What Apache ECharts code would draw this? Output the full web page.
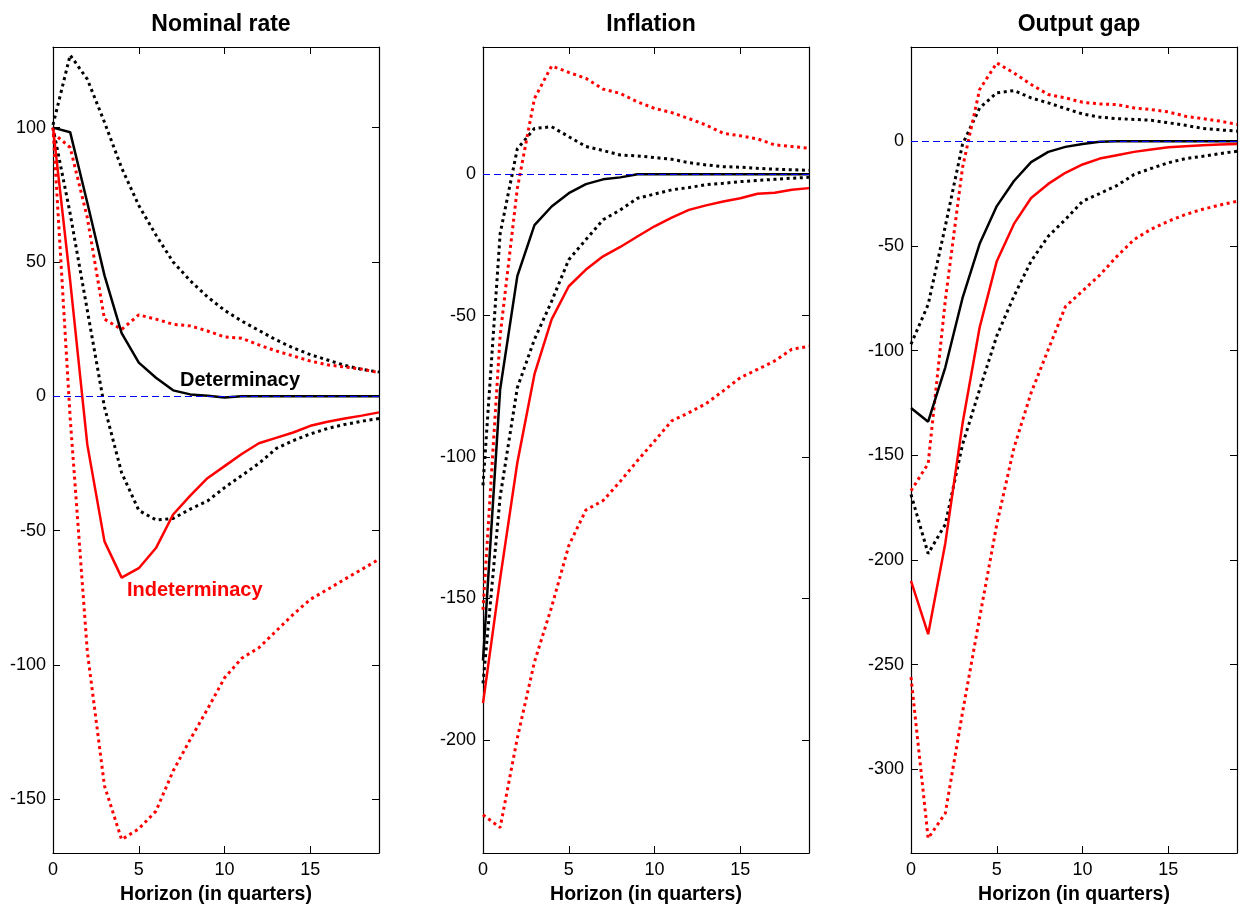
<!DOCTYPE html>
<html>
<head>
    <meta charset="utf-8">
    <title>Impulse responses: determinacy vs indeterminacy</title>
    <script src="https://cdn.jsdelivr.net/npm/echarts@6/dist/echarts.min.js"></script>
    <style>
        body, html { margin: 0; padding: 0; width: 100%; height: 100%; overflow: hidden; background: #fff; }
        #main { width: 1245px; height: 908px; }
    </style>
</head>
<body>
    <div id="main"></div>
    <script>
        // horizon in quarters
        const horizon = [0,1,2,3,4,5,6,7,8,9,10,11,12,13,14,15,16,17,18,19];
        const panelTitles = ['Nominal rate', 'Inflation', 'Output gap'];

        // Nominal rate
        const nomDet   = [100, 98.3, 72, 45, 23.5, 12.5, 6.9, 2.2, 0.7, 0.2, -0.5, 0, 0, 0, 0, 0, 0, 0, 0, 0];
        const nomDetHi = [101, 127, 118, 102, 85, 71, 60, 50, 43, 37, 32, 28, 24.5, 21, 18, 15.5, 13.5, 11.5, 10, 9];
        const nomDetLo = [100, 68, 32, -4, -28.5, -42.5, -46, -45.5, -42, -39, -34, -29.5, -25, -19.5, -16.5, -14, -12, -10.5, -9.3, -8.3];
        const nomInd   = [100, 43, -18, -54, -67.5, -64, -56.5, -44, -37, -30.5, -26, -21.5, -17.5, -15.5, -13.5, -11, -9.5, -8.3, -7.2, -6];
        const nomIndHi = [98, 92.6, 66.5, 28.7, 24.9, 30.3, 28.7, 26.8, 26.2, 24.3, 22.1, 21.6, 19.1, 16.9, 15, 13.1, 11.7, 10.9, 10.1, 8.8];
        const nomIndLo = [100, -8, -95, -145, -165, -161, -154.4, -139.5, -127.7, -116.5, -104.8, -97.5, -93.6, -87.4, -81.2, -75.6, -71.9, -68.1, -64.4, -60.7];

        // Inflation
        const infDet   = [-172, -76, -36, -18, -11.4, -6.7, -3.5, -1.8, -1.1, 0, 0, 0, 0, 0, 0, 0, 0, 0, 0, 0];
        const infDetHi = [-110, -21, 9, 16.2, 16.8, 13.3, 9.8, 8.4, 6.8, 6.5, 5.9, 5.3, 4.1, 3.3, 2.7, 2.5, 2.1, 1.8, 1.6, 1.4];
        const infDetLo = [-180, -114, -75.5, -58.4, -44.9, -30.2, -23.1, -16.1, -12.6, -8.5, -7, -5.5, -4.7, -3.7, -3.2, -2.6, -2.2, -1.8, -1.4, -1.1];
        const infInd   = [-187, -143, -102, -70.7, -51.3, -39.6, -33.7, -29, -25.7, -22, -18.4, -15.3, -12.6, -11, -9.6, -8.5, -6.9, -6.5, -5.5, -4.9];
        const infIndHi = [-154, -57, -5, 26.8, 38.3, 36, 33.9, 30.1, 28.6, 25.6, 23.3, 21.8, 19.7, 17.4, 14.5, 13.6, 12.5, 10.4, 9.8, 9.2];
        const infIndLo = [-226.5, -231, -199.4, -172.4, -153, -131.3, -118.7, -115.4, -108.6, -101.3, -94.3, -87.2, -84.3, -81.1, -76.6, -71.9, -69, -66, -61.9, -60.8];

        // Output gap
        const outDet   = [-127.4, -134, -108, -75, -49, -31, -19, -10, -5.1, -2.7, -1.3, -0.3, 0, 0, 0, 0, 0, 0, 0, 0];
        const outDetHi = [-97, -78, -40.6, -1.6, 15.9, 23.1, 24.2, 20.7, 18.3, 15.6, 13, 11.5, 10.8, 10.4, 10, 8.8, 7.6, 6.1, 5.4, 4.8];
        const outDetLo = [-168.7, -197, -183, -145, -118.6, -93, -74, -57.3, -45.4, -37.4, -28.7, -25, -21.2, -15.9, -13, -10.3, -8.3, -7.2, -5.9, -4.8];
        const outInd   = [-210, -235.5, -192, -135, -89, -57.3, -39.5, -27.1, -20.4, -15.1, -11.1, -8.3, -6.7, -5.1, -4, -2.9, -2.4, -1.9, -1.6, -1.3];
        const outIndHi = [-167, -154, -76, -12.7, 24.7, 37.4, 32.6, 27.1, 22.3, 20.7, 18.6, 17.8, 17.5, 15.9, 15.1, 14, 11.9, 10.8, 9.6, 8];
        const outIndLo = [-256, -333, -321, -273, -227.6, -183, -146.5, -120.2, -99.5, -79, -71.5, -64, -55, -47, -42, -38.2, -35, -32.5, -30.5, -28.7];

        // y ranges of each panel
        const yMin = [-170, -240, -340];
        const yMax = [130, 45, 45];

        const panels = [
            [nomDetHi, nomDetLo, nomIndHi, nomIndLo, nomDet, nomInd],
            [infDetHi, infDetLo, infIndHi, infIndLo, infDet, infInd],
            [outDetHi, outDetLo, outIndHi, outIndLo, outDet, outInd]
        ];

        const FONT = '"Liberation Sans", Arial, sans-serif';
        const gridLeft = [53, 483, 911];
        const gridW = 326;

        var chart = echarts.init(document.getElementById('main'));

        const grids = [], xAxes = [], yAxes = [], series = [], titles = [];
        gridLeft.forEach((left, g) => {
            grids.push({ left: left, top: 47, width: gridW, height: 806, show: false, outerBoundsMode: 'none', containLabel: false });
            titles.push({
                text: panelTitles[g],
                left: left + gridW / 2,
                top: 8,
                textAlign: 'center',
                textStyle: { fontFamily: FONT, fontSize: 23, fontWeight: 'bold', color: '#000' }
            });
            const axisLine = { show: true, onZero: false, lineStyle: { color: '#000', width: 1.2 } };
            const tick = { show: true, inside: true, length: 7, lineStyle: { color: '#000', width: 1 } };
            xAxes.push({
                type: 'value', gridIndex: g, min: 0, max: 19, interval: 5, position: 'bottom',
                axisLine: axisLine, axisTick: tick, splitLine: { show: false },
                axisLabel: {
                    fontFamily: FONT, fontSize: 18, color: '#000', margin: 8,
                    showMaxLabel: false,
                    formatter: v => (v % 5 === 0 ? String(v) : '')
                },
                name: 'Horizon (in quarters)', nameLocation: 'middle', nameGap: 32,
                nameTextStyle: { fontFamily: FONT, fontSize: 19.5, fontWeight: 'bold', color: '#000' }
            });
            xAxes.push({
                type: 'value', gridIndex: g, min: 0, max: 19, interval: 5, position: 'top',
                axisLine: axisLine, axisTick: tick, splitLine: { show: false },
                axisLabel: { show: false }
            });
            const yBase = {
                type: 'value', gridIndex: g, min: yMin[g], max: yMax[g],
                splitNumber: g === 2 ? 8 : 5, minInterval: 50, maxInterval: 50,
                axisLine: axisLine, axisTick: tick, splitLine: { show: false }
            };
            yAxes.push(Object.assign({}, yBase, {
                position: 'left',
                axisLabel: {
                    fontFamily: FONT, fontSize: 18, color: '#000', margin: 7,
                    showMinLabel: false, showMaxLabel: false,
                    formatter: v => (v % 50 === 0 ? String(v) : '')
                }
            }));
            yAxes.push(Object.assign({}, yBase, { position: 'right', axisLabel: { show: false } }));

            const styles = [
                ['#000000', 'dotted'], ['#000000', 'dotted'],
                ['#ff0000', 'dotted'], ['#ff0000', 'dotted'],
                ['#000000', 'solid'], ['#ff0000', 'solid']
            ];
            panels[g].forEach((vals, k) => {
                const dotted = styles[k][1] === 'dotted';
                const s = {
                    type: 'line',
                    xAxisIndex: 2 * g,
                    yAxisIndex: 2 * g,
                    data: horizon.map((h, i) => [h, vals[i]]),
                    symbol: 'none',
                    silent: true,
                    z: dotted ? 3 : 4,
                    lineStyle: {
                        color: styles[k][0],
                        type: dotted ? [3, 3.6] : 'solid',
                        width: dotted ? 3 : 2.5,
                        cap: 'butt'
                    }
                };
                if (k === 0) {
                    s.markLine = {
                        silent: true,
                        symbol: 'none',
                        label: { show: false },
                        lineStyle: { color: '#0000ff', type: [7, 4], width: 1 },
                        data: [{ yAxis: 0 }]
                    };
                }
                series.push(s);
            });
        });

        const option = {
            backgroundColor: '#ffffff',
            animation: false,
            title: titles,
            grid: grids,
            xAxis: xAxes,
            yAxis: yAxes,
            series: series,
            graphic: [
                {
                    type: 'text', left: 180, top: 370,
                    style: { text: 'Determinacy', fill: '#000', font: 'bold 20px ' + FONT }
                },
                {
                    type: 'text', left: 127, top: 580,
                    style: { text: 'Indeterminacy', fill: '#ff0000', font: 'bold 20px ' + FONT }
                }
            ]
        };

        chart.setOption(option);
    </script>
</body>
</html>
